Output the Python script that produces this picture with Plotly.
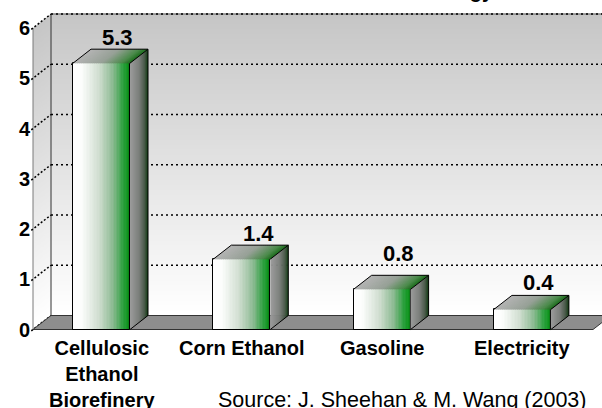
import plotly.graph_objects as go

# ---------------- data ----------------
categories = ["Cellulosic<br>Ethanol<br>Biorefinery", "Corn Ethanol", "Gasoline", "Electricity"]
values = [5.3, 1.4, 0.8, 0.4]
value_labels = ["5.3", "1.4", "0.8", "0.4"]
y_ticks = [0, 1, 2, 3, 4, 5, 6]
y_ticklabels = ["0", "1", "2", "3", "4", "5", "6"]
source_text = "Source: J. Sheehan & M. Wang (2003)"
title_text = "Fossil Energy Ratio"

# ---------------- geometry / style ----------------
W_FIG, H_FIG = 602, 408
M_L, M_R, M_T, M_B = 31, 0, 0, 68
PLOT_W = W_FIG - M_L - M_R
PLOT_H = H_FIG - M_T - M_B

PX_PER_CAT = 140.3
FIRST_CAT_PX = 101.5
PX_PER_UNIT = 50.25
ZERO_PX = 329.5

x_range = [(M_L - FIRST_CAT_PX) / PX_PER_CAT, (W_FIG - M_R - FIRST_CAT_PX) / PX_PER_CAT]
y_range = [-(M_T + PLOT_H - ZERO_PX) / PX_PER_UNIT, (ZERO_PX - M_T) / PX_PER_UNIT]

DX = 18 / PX_PER_CAT
DY = 14 / PX_PER_UNIT
BAR_W = 57 / PX_PER_CAT
X_FRONT_AXIS = (33 - FIRST_CAT_PX) / PX_PER_CAT
X_BACK_AXIS = X_FRONT_AXIS + DX
FLOOR_RIGHT = (593 - FIRST_CAT_PX) / PX_PER_CAT
X_FAR = x_range[1] + 0.5
Y_MAX = max(y_ticks)

LABEL_YSHIFT = [12, 12, 22, 13]   # pixel offsets of value labels above the bar tops

FONT = "Liberation Sans, Arial, sans-serif"

FRONT_STOPS = [(0.0, (255, 255, 255)), (0.15, (252, 253, 252)), (0.45, (208, 222, 208)),
               (0.7, (140, 186, 146)), (0.88, (44, 160, 62)), (0.96, (16, 150, 32)), (1.0, (10, 120, 20))]
SIDE_STOPS = [(0.0, (156, 156, 156)), (0.5, (122, 126, 122)), (0.8, (74, 90, 74)), (1.0, (14, 58, 16))]
TOP_STOPS = [(0.0, (180, 180, 180)), (0.5, (150, 160, 150)), (0.85, (74, 138, 74)), (1.0, (26, 106, 26))]
WALL_STOPS = [(0.0, (255, 255, 255)), (1.0, (198, 198, 198))]


def grad(stops, t):
    for (t0, c0), (t1, c1) in zip(stops[:-1], stops[1:]):
        if t <= t1:
            f = 0 if t1 == t0 else (t - t0) / (t1 - t0)
            c = [round(a + (b - a) * f) for a, b in zip(c0, c1)]
            return "rgb(%d,%d,%d)" % tuple(c)
    return "rgb(%d,%d,%d)" % stops[-1][1]


def px_x(px):
    return (px - M_L) / PLOT_W


def px_y(py):
    return 1 - (py - M_T) / PLOT_H


fig = go.Figure()
shapes = []

# walls with vertical gradient (back wall + left wall)
NB = 60
for k in range(NB):
    y0 = k * Y_MAX / NB
    y1 = (k + 1) * Y_MAX / NB + (0.02 if k < NB - 1 else 0)
    col = grad(WALL_STOPS, (k + 0.5) / NB)
    path = (f"M {X_BACK_AXIS},{y0 + DY} L {X_FAR},{y0 + DY} L {X_FAR},{y1 + DY} L {X_BACK_AXIS},{y1 + DY} Z "
            f"M {X_FRONT_AXIS},{y0} L {X_BACK_AXIS},{y0 + DY} L {X_BACK_AXIS},{y1 + DY} L {X_FRONT_AXIS},{y1} Z")
    shapes.append(dict(type="path", path=path, xref="x", yref="y", fillcolor=col,
                       line=dict(width=0), layer="below"))

# wall edges
shapes.append(dict(type="line", xref="x", yref="y", x0=X_FRONT_AXIS, x1=X_FRONT_AXIS, y0=0, y1=Y_MAX,
                   line=dict(color="#7a7a7a", width=1), layer="below"))
shapes.append(dict(type="line", xref="x", yref="y", x0=X_BACK_AXIS, x1=X_BACK_AXIS, y0=DY, y1=Y_MAX + DY,
                   line=dict(color="#303030", width=1), layer="below"))
shapes.append(dict(type="line", xref="x", yref="y", x0=X_BACK_AXIS, x1=X_FAR, y0=Y_MAX + DY, y1=Y_MAX + DY,
                   line=dict(color="#808080", width=1.5), layer="below"))

# gridlines on back wall + connectors on left wall
for v in y_ticks:
    if v > 0:
        shapes.append(dict(type="line", xref="x", yref="y", x0=X_BACK_AXIS, x1=X_FAR, y0=v + DY, y1=v + DY,
                           line=dict(color="#000000", width=1.5, dash="2px,3px"), layer="below"))
    shapes.append(dict(type="line", xref="x", yref="y", x0=X_FRONT_AXIS - 0.012, x1=X_BACK_AXIS,
                       y0=v - 0.012 * DY / DX, y1=v + DY,
                       line=dict(color="#000000", width=1.5, dash="2px,2px"), layer="below"))

# floor
floor_path = (f"M {X_FRONT_AXIS},0 L {FLOOR_RIGHT},0 L {FLOOR_RIGHT + DX},{DY} L {X_BACK_AXIS},{DY} Z")
shapes.append(dict(type="path", path=floor_path, xref="x", yref="y", fillcolor="#8e8e8e",
                   line=dict(color="#333333", width=1), layer="below"))

xs = list(range(len(values)))

# front faces (gradient strips)
NF = 40
sw = BAR_W / NF
for k in range(NF):
    off = -BAR_W / 2 + k * sw
    wdt = min(sw * 1.6, BAR_W / 2 - off)
    fig.add_trace(go.Bar(x=xs, y=values, width=wdt, offset=off,
                         marker=dict(color=grad(FRONT_STOPS, (k + 0.5) / NF), line=dict(width=0)),
                         hoverinfo="skip", showlegend=False))
fig.add_trace(go.Bar(x=xs, y=values, width=BAR_W, offset=-BAR_W / 2,
                     marker=dict(color="rgba(0,0,0,0)", line=dict(color="#000000", width=1)),
                     hoverinfo="skip", showlegend=False))

# side faces
NS = 18
for k in range(NS):
    t0 = k / NS
    t1 = min(1.0, (k + 1.6) / NS)
    px_, py_ = [], []
    for i, v in zip(xs, values):
        xr = i + BAR_W / 2
        px_ += [xr + t0 * DX, xr + t1 * DX, xr + t1 * DX, xr + t0 * DX, xr + t0 * DX, None]
        py_ += [t0 * DY, t1 * DY, v + t1 * DY, v + t0 * DY, t0 * DY, None]
    fig.add_trace(go.Scatter(x=px_, y=py_, mode="lines", fill="toself", line=dict(width=0),
                             fillcolor=grad(SIDE_STOPS, (k + 0.5) / NS), hoverinfo="skip", showlegend=False))

# top faces
NT = 30
for k in range(NT):
    u0 = k / NT
    u1 = min(1.0, (k + 1.6) / NT)
    px_, py_ = [], []
    for i, v in zip(xs, values):
        xl = i - BAR_W / 2
        px_ += [xl + u0 * BAR_W, xl + u1 * BAR_W, xl + u1 * BAR_W + DX, xl + u0 * BAR_W + DX, xl + u0 * BAR_W, None]
        py_ += [v, v, v + DY, v + DY, v, None]
    fig.add_trace(go.Scatter(x=px_, y=py_, mode="lines", fill="toself", line=dict(width=0),
                             fillcolor=grad(TOP_STOPS, (k + 0.5) / NT), hoverinfo="skip", showlegend=False))

# outlines of top + side
ox, oy = [], []
for i, v in zip(xs, values):
    xl = i - BAR_W / 2
    xr = i + BAR_W / 2
    ox += [xl, xl + DX, xr + DX, xr, None, xr + DX, xr + DX, xr, None]
    oy += [v, v + DY, v + DY, v, None, v + DY, DY, 0, None]
fig.add_trace(go.Scatter(x=ox, y=oy, mode="lines", line=dict(color="#000000", width=1),
                         hoverinfo="skip", showlegend=False))

annotations = []
# value labels
for i, v, lab, ys in zip(xs, values, value_labels, LABEL_YSHIFT):
    annotations.append(dict(x=i + DX * 0.9, y=v + DY, xref="x", yref="y", text=lab, showarrow=False,
                            yanchor="middle", yshift=ys,
                            font=dict(family=FONT, size=22, color="#000000", weight="bold")))
# category labels
for i, c in zip(xs, categories):
    annotations.append(dict(x=i, y=0, xref="x", yref="y", text=c, showarrow=False,
                            yanchor="top", yshift=-5, align="center",
                            font=dict(family=FONT, size=20, color="#000000", weight="bold")))
# source
annotations.append(dict(x=px_x(401.5), y=px_y(400), xref="paper", yref="paper", text=source_text,
                        showarrow=False, xanchor="center", yanchor="middle",
                        font=dict(family=FONT, size=21.5, color="#000000")))
# cut-off title
annotations.append(dict(x=px_x(360), y=1, xref="paper", yref="paper", text=title_text,
                        showarrow=False, xanchor="left", yanchor="bottom", yshift=-4,
                        font=dict(family=FONT, size=20, color="#000000", weight="bold")))

fig.update_layout(
    width=W_FIG, height=H_FIG,
    margin=dict(l=M_L, r=M_R, t=M_T, b=M_B, pad=0),
    paper_bgcolor="#ffffff", plot_bgcolor="#ffffff",
    barmode="overlay", bargap=0,
    shapes=shapes, annotations=annotations,
    showlegend=False,
    xaxis=dict(range=x_range, visible=False, fixedrange=True),
    yaxis=dict(range=y_range, tickvals=y_ticks, ticktext=y_ticklabels, showgrid=False, zeroline=False,
               showline=False, ticks="", ticklabelstandoff=0,
               tickfont=dict(family=FONT, size=20, color="#000000", weight="bold"), fixedrange=True),
)

fig.write_html("out.html")
